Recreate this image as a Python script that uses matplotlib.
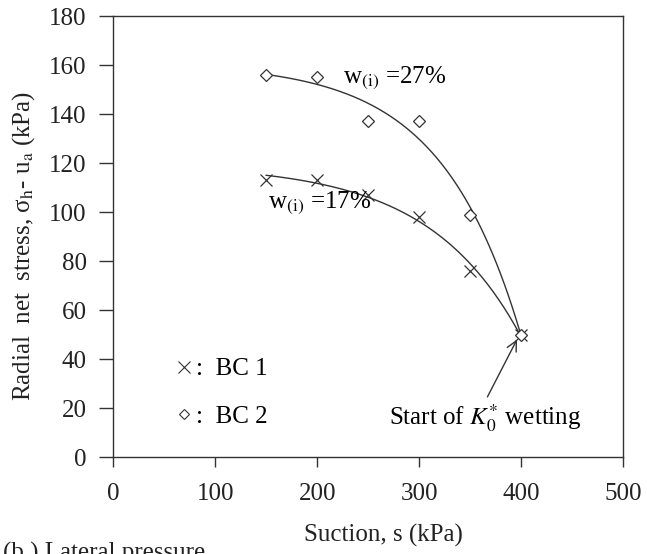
import numpy as np
import matplotlib
matplotlib.use("Agg")
import matplotlib.pyplot as plt
from matplotlib.lines import Line2D

suction = [150, 200, 250, 300, 350, 400]
bc1_stress = [113, 113, 107, 98, 76, 50]
bc2_stress = [156, 155, 137, 137, 99, 50]

x_ticks = [0, 100, 200, 300, 400, 500]
y_ticks = list(range(0, 181, 20))

plt.rcParams['font.family'] = ['Liberation Serif', 'DejaVu Serif']
plt.rcParams['mathtext.fontset'] = 'stix'

INK = '#333333'
FS = 18


def trend(x, y):
    # least squares fit of y = a + b * exp(k * x), k picked from a grid
    x = np.asarray(x, float)
    y = np.asarray(y, float)
    best = None
    for k in np.linspace(0.002, 0.05, 500):
        A = np.column_stack([np.ones_like(x), np.exp(k * x)])
        coef, *_ = np.linalg.lstsq(A, y, rcond=None)
        err = np.sum((A @ coef - y) ** 2)
        if best is None or err < best[0]:
            best = (err, k, coef)
    _, k, (a, b) = best
    xs = np.linspace(x.min(), x.max(), 200)
    return xs, a + b * np.exp(k * xs)


def main():
    fig = plt.figure(figsize=(6.47, 5.54), dpi=100)
    ax = fig.add_axes([0.175, 0.175, 0.788, 0.796])

    for ys in (bc1_stress, bc2_stress):
        xs, fit = trend(suction, ys)
        ax.plot(xs, fit, color=INK, lw=1.0)

    ax.plot(suction, bc1_stress, ls='none', marker='x', ms=8, mew=0.9, color=INK)
    ax.plot(suction, bc2_stress, ls='none', marker='D', ms=6, mew=0.9,
            mfc='white', mec=INK)

    ax.text(225, 155, r'w$_{\rm (i)}$ =27%', fontsize=FS, va='center')
    ax.text(152, 104, r'w$_{\rm (i)}$ =17%', fontsize=FS, va='center')
    ax.annotate(r'Start of $K_0^{*}$ wetting', xy=(396, 48), xytext=(270, 16),
                fontsize=FS, va='center',
                arrowprops=dict(arrowstyle='->', color=INK, lw=1.0,
                                shrinkA=2, shrinkB=0,
                                relpos=(0.5, 1.0)))

    handles = [
        Line2D([], [], ls='none', marker='x', ms=8, mew=0.8, color=INK),
        Line2D([], [], ls='none', marker='D', ms=5, mew=0.8, mfc='white', mec=INK),
    ]
    ax.legend(handles, [':  BC 1', ':  BC 2'], loc='lower left',
              bbox_to_anchor=(0.075, 0.015), frameon=False, fontsize=FS,
              handlelength=0.8, handletextpad=0.1, labelspacing=1.0)

    ax.set_xlim(0, 500)
    ax.set_ylim(0, 180)
    ax.set_xticks(x_ticks)
    ax.set_yticks(y_ticks)
    ax.tick_params(labelsize=FS, direction='out', width=1.0,
                   color=INK, labelcolor='#222222')
    ax.tick_params(axis='y', length=10, pad=9)
    ax.tick_params(axis='x', length=7, pad=12)
    for sp in ax.spines.values():
        sp.set_color(INK)
        sp.set_linewidth(1.0)

    ax.set_xlabel('Suction, s (kPa)', fontsize=FS, color='#222222')
    ax.xaxis.set_label_coords(0.53, -0.152)
    ax.set_ylabel(r'Radial  net  stress, σ$_{\rm h}$- u$_{\rm a}$ (kPa)',
                  fontsize=FS, color='#222222')
    ax.yaxis.set_label_coords(-0.15, 0.478)

    fig.text(0.004, 0.022, '(b ) Lateral pressure', fontsize=FS, va='top',
             color='#222222')

    fig.savefig('out.png', dpi=100)


if __name__ == '__main__':
    main()
